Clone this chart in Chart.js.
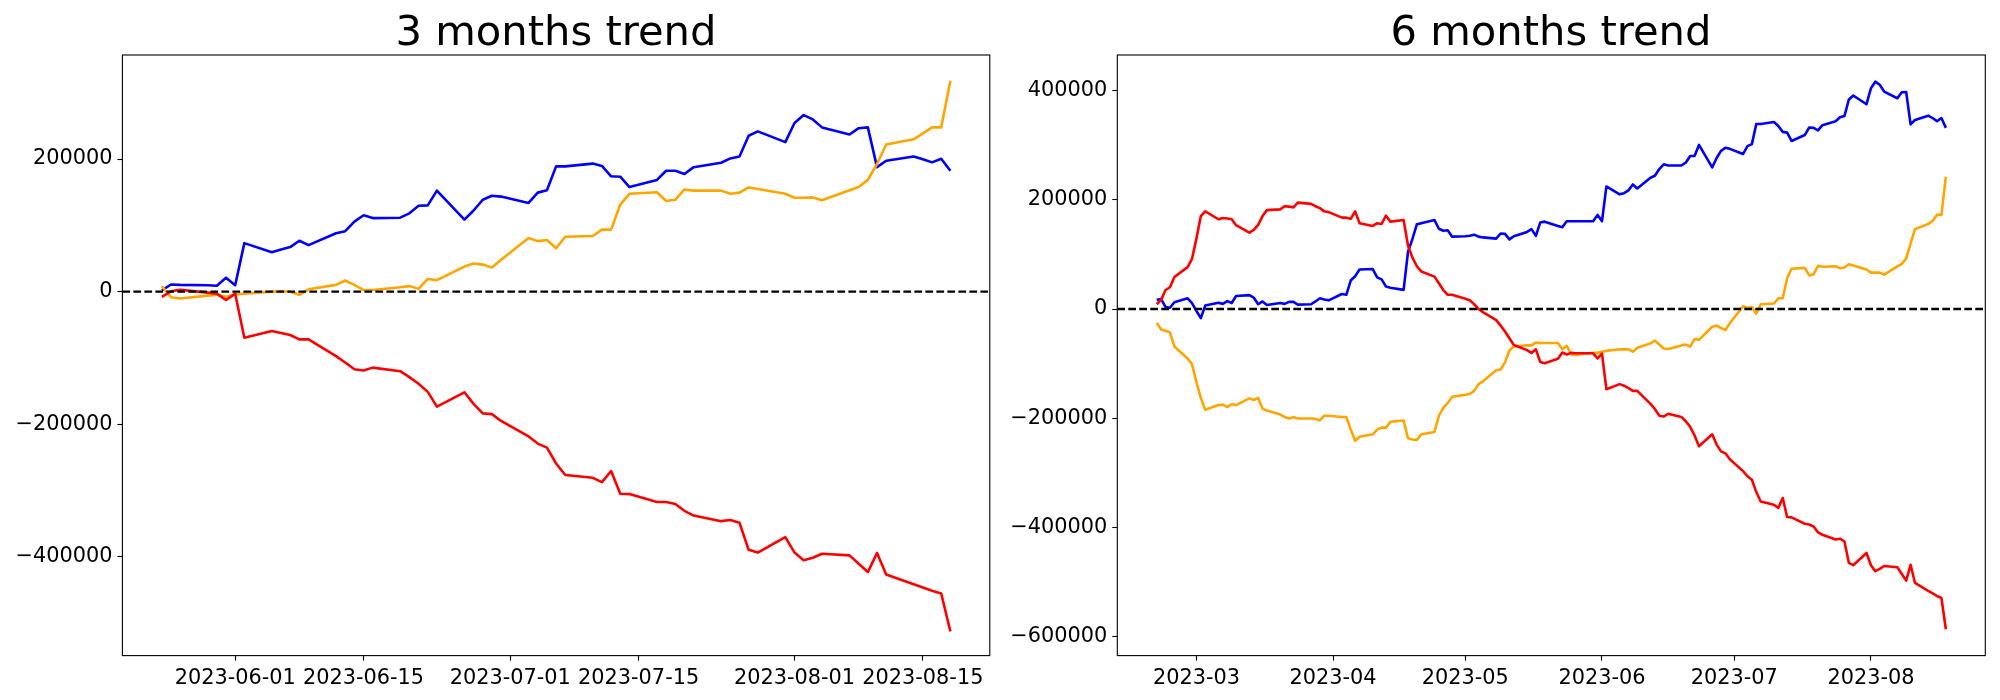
<!DOCTYPE html>
<html>
<head>
<meta charset="utf-8">
<script src="https://cdn.jsdelivr.net/npm/chart.js@4.4.0/dist/chart.umd.min.js"></script>
<style>
  body { margin: 0; background: #fff; width: 2000px; height: 700px; position: relative; overflow: hidden; font-family: "DejaVu Sans"; }
  canvas { position: absolute; top: 0; }
  .title { position: absolute; top: 10px; font-size: 41.67px; line-height: 41.67px; text-align: center; color: #000; white-space: nowrap; }
</style>
</head>
<body>
<canvas id="chart3m" width="1000" height="700" style="left:0"></canvas>
<canvas id="chart6m" width="1000" height="700" style="left:1000px"></canvas>
<div class="title" style="left:122px;width:868px">3 months trend</div>
<div class="title" style="left:1117px;width:868px">6 months trend</div>
<script>
// ---- 3 months window ----
const dates3m = [
  "2023-05-24", "2023-05-25", "2023-05-26", "2023-05-29", "2023-05-30", "2023-05-31",
  "2023-06-01", "2023-06-02", "2023-06-05", "2023-06-06", "2023-06-07", "2023-06-08", "2023-06-09",
  "2023-06-12", "2023-06-13", "2023-06-14", "2023-06-15", "2023-06-16",
  "2023-06-19", "2023-06-20", "2023-06-21", "2023-06-22", "2023-06-23",
  "2023-06-26", "2023-06-27", "2023-06-28", "2023-06-29", "2023-06-30",
  "2023-07-03", "2023-07-04", "2023-07-05", "2023-07-06", "2023-07-07",
  "2023-07-10", "2023-07-11", "2023-07-12", "2023-07-13", "2023-07-14",
  "2023-07-17", "2023-07-18", "2023-07-19", "2023-07-20", "2023-07-21",
  "2023-07-24", "2023-07-25", "2023-07-26", "2023-07-27", "2023-07-28",
  "2023-07-31", "2023-08-01", "2023-08-02", "2023-08-03", "2023-08-04",
  "2023-08-07", "2023-08-08", "2023-08-09", "2023-08-10", "2023-08-11",
  "2023-08-14", "2023-08-15", "2023-08-16", "2023-08-17", "2023-08-18"
];
const blue3m = [
  2000, 10800, 10200, 9600, 9000, 21000,
  9600, 73200, 59400, 63600, 67200, 76800, 70200,
  88200, 91200, 105600, 115200, 111000,
  111600, 118200, 129600, 130200, 152400,
  108600, 122400, 138600, 144600, 143400,
  133800, 149400, 153000, 189000, 189000,
  193200, 189600, 174000, 173400, 157800,
  168600, 182400, 182400, 177600, 187800,
  194400, 201000, 204000, 235200, 241800,
  225600, 254400, 266400, 259800, 247800,
  237000, 246600, 247800, 187800, 197400,
  204000, 199800, 195000, 200400, 182400
];
const orange3m = [
  8400, -8400, -10200, -6000, -4800, -7800,
  -4200, -3000, 0, 600, 0, -4800, 3600,
  10200, 16800, 10200, 2400, 2400,
  6600, 8400, 4200, 19200, 17400,
  37800, 42600, 40800, 36600, 48000,
  81000, 76200, 78000, 65400, 82800,
  84000, 93600, 93600, 131400, 147600,
  150000, 136800, 138600, 154200, 152400,
  152400, 147600, 149400, 157200, 154800,
  147600, 141600, 141600, 142200, 138000,
  153000, 157800, 168600, 192600, 222000,
  229800, 238800, 247800, 247800, 318000
];
const red3m = [
  -7700, 500, 3000, -1500, -3000, -12600,
  -3000, -69600, -59400, -62400, -65400, -72000, -72000,
  -97200, -106800, -117000, -118800, -114600,
  -120000, -129000, -139000, -151200, -173400,
  -151800, -169200, -183600, -184800, -195000,
  -218400, -229200, -235200, -259200, -276600,
  -280800, -287400, -270600, -304800, -305400,
  -317400, -317400, -320400, -330600, -337800,
  -346200, -344400, -348600, -389400, -393600,
  -370200, -393600, -405000, -401400, -395400,
  -397800, -410400, -423000, -394200, -426600,
  -441400, -446200, -451200, -455400, -512400
];
const xTicks3m = ["2023-06-01", "2023-06-15", "2023-07-01", "2023-07-15", "2023-08-01", "2023-08-15"];
const xLabels3m = ["2023-06-01", "2023-06-15", "2023-07-01", "2023-07-15", "2023-08-01", "2023-08-15"];
const yTicks3m = [-400000, -200000, 0, 200000];

// ---- 6 months window ----
const dates6m = [
  "2023-02-20", "2023-02-21", "2023-02-22", "2023-02-23", "2023-02-24",
  "2023-02-27", "2023-02-28", "2023-03-01", "2023-03-02", "2023-03-03",
  "2023-03-06", "2023-03-07", "2023-03-08", "2023-03-09", "2023-03-10",
  "2023-03-13", "2023-03-14", "2023-03-15", "2023-03-16", "2023-03-17",
  "2023-03-20", "2023-03-21", "2023-03-22", "2023-03-23", "2023-03-24",
  "2023-03-27", "2023-03-28", "2023-03-29", "2023-03-30", "2023-03-31",
  "2023-04-03", "2023-04-04", "2023-04-05", "2023-04-06", "2023-04-07",
  "2023-04-10", "2023-04-11", "2023-04-12", "2023-04-13", "2023-04-14",
  "2023-04-17", "2023-04-18", "2023-04-19", "2023-04-20", "2023-04-21",
  "2023-04-24", "2023-04-25", "2023-04-26", "2023-04-27", "2023-04-28",
  "2023-05-01", "2023-05-02", "2023-05-03", "2023-05-04", "2023-05-05",
  "2023-05-08", "2023-05-09", "2023-05-10", "2023-05-11", "2023-05-12",
  "2023-05-15", "2023-05-16", "2023-05-17", "2023-05-18", "2023-05-19",
  "2023-05-22", "2023-05-23", "2023-05-24", "2023-05-25", "2023-05-26",
  "2023-05-29", "2023-05-30", "2023-05-31", "2023-06-01", "2023-06-02",
  "2023-06-05", "2023-06-06", "2023-06-07", "2023-06-08", "2023-06-09",
  "2023-06-12", "2023-06-13", "2023-06-14", "2023-06-15", "2023-06-16",
  "2023-06-19", "2023-06-20", "2023-06-21", "2023-06-22", "2023-06-23",
  "2023-06-26", "2023-06-27", "2023-06-28", "2023-06-29", "2023-06-30",
  "2023-07-03", "2023-07-04", "2023-07-05", "2023-07-06", "2023-07-07",
  "2023-07-10", "2023-07-11", "2023-07-12", "2023-07-13", "2023-07-14",
  "2023-07-17", "2023-07-18", "2023-07-19", "2023-07-20", "2023-07-21",
  "2023-07-24", "2023-07-25", "2023-07-26", "2023-07-27", "2023-07-28",
  "2023-07-31", "2023-08-01", "2023-08-02", "2023-08-03", "2023-08-04",
  "2023-08-07", "2023-08-08", "2023-08-09", "2023-08-10", "2023-08-11",
  "2023-08-14", "2023-08-15", "2023-08-16", "2023-08-17", "2023-08-18"
];
const blue6m = [
  16700, 18100, 3600, 2200, 12300,
  19600, 10900, -3600, -16700, 6500,
  11600, 9400, 14500, 10900, 23900,
  25400, 21000, 8700, 13800, 7200,
  10900, 9400, 13000, 13000, 8000,
  8700, 13800, 19600, 17400, 15900,
  27500, 26100, 52200, 60100, 72500,
  73200, 58000, 54300, 41300, 39100,
  35000, 105100, 128300, 155100, 157200,
  163000, 147100, 143500, 144200, 132600,
  133300, 134100, 136200, 132600, 131200,
  129000, 138400, 137700, 127500, 133300,
  141300, 146400, 134100, 158700, 160100,
  152200, 150000, 160900, 160900, 160900,
  160900, 160900, 172500, 160900, 224600,
  210100, 212300, 217400, 228200, 221000,
  240600, 244200, 256500, 265200, 263000,
  263000, 268100, 280400, 280400, 300700,
  259400, 276800, 289800, 295600, 293500,
  284000, 298500, 302200, 339100, 339100,
  342700, 335500, 324600, 323200, 308000,
  318800, 332600, 331900, 327500, 336900,
  344200, 351400, 353600, 384000, 391300,
  375300, 404300, 416600, 410900, 398500,
  386200, 397100, 397800, 338400, 346400,
  354300, 350000, 344200, 350000, 331900
];
const orange6m = [
  -25400, -37700, -39900, -42800, -68800,
  -90600, -101400, -134100, -163000, -184800,
  -176100, -175400, -179700, -174600, -176100,
  -163800, -166700, -163000, -182600, -186200,
  -193500, -197800, -200700, -198500, -200700,
  -200700, -201400, -204300, -195600, -195600,
  -197800, -197800, -221000, -241300, -234000,
  -229700, -221000, -217400, -217400, -206500,
  -204300, -236900, -239100, -239800, -229700,
  -225300, -195600, -181200, -172500, -160900,
  -157200, -155800, -150000, -137700, -132600,
  -112300, -110900, -97800, -76100, -68800,
  -66700, -66700, -61600, -62300, -62300,
  -62300, -73900, -67400, -83300, -84100,
  -81200, -80400, -80400, -78300, -76800,
  -73900, -73900, -73900, -78300, -71000,
  -63000, -58000, -65200, -72500, -73200,
  -66700, -65200, -68800, -55100, -56500,
  -32600, -30400, -34800, -38400, -26100,
  5100, 2200, 3600, -8700, 8700,
  10100, 19600, 19600, 56500, 73900,
  75400, 61600, 63800, 79000, 77500,
  78300, 74600, 76100, 81900, 79700,
  72500, 66700, 66700, 66700, 63000,
  78300, 82600, 92700, 119600, 146400,
  155800, 161600, 172500, 172500, 242000
];
const red6m = [
  8700, 16700, 34800, 39900, 58700,
  76800, 92000, 129000, 170300, 179000,
  164500, 166700, 165900, 164500, 153600,
  139800, 144900, 154300, 170300, 181200,
  182600, 188400, 187700, 186200, 194900,
  192700, 188400, 184800, 179000, 177500,
  167400, 167400, 165200, 179000, 157200,
  152200, 157200, 155800, 171000, 160100,
  163000, 115900, 94200, 78300, 68800,
  59400, 47100, 34800, 26100, 26100,
  18800, 15900, 8700, 0, -5800,
  -20300, -30400, -41300, -53600, -65900,
  -75400, -80400, -73900, -97100, -99300,
  -91300, -79700, -83300, -80400, -81200,
  -81200, -81200, -90600, -81900, -147100,
  -137700, -140600, -144900, -150000, -150000,
  -173900, -183300, -195600, -197100, -192000,
  -197800, -205800, -215900, -231900, -251400,
  -229700, -248500, -260900, -264500, -275300,
  -297100, -306500, -313000, -335500, -352900,
  -358700, -364500, -346400, -381100, -381900,
  -393500, -394900, -398500, -409400, -413700,
  -422400, -421000, -426100, -465200, -469500,
  -447100, -469500, -480400, -476100, -471000,
  -473200, -485500, -497800, -468800, -502100,
  -516600, -521000, -526000, -529700, -586900
];
const xTicks6m = ["2023-03-01", "2023-04-01", "2023-05-01", "2023-06-01", "2023-07-01", "2023-08-01"];
const xLabels6m = ["2023-03", "2023-04", "2023-05", "2023-06", "2023-07", "2023-08"];
const yTicks6m = [-600000, -400000, -200000, 0, 200000, 400000];

const DAY = 86400000;
function dayNum(s) {
  return Date.parse(s + "T00:00:00Z") / DAY;
}

// matplotlib style minus sign
function fmtNum(v) {
  return v < 0 ? "\u2212" + Math.abs(v) : String(v);
}

// box around the plot area (all four spines)
const framePlugin = {
  id: "frame",
  afterDraw(chart) {
    const a = chart.chartArea;
    const ctx = chart.ctx;
    ctx.save();
    ctx.strokeStyle = "#000";
    ctx.lineWidth = 1.1;
    ctx.strokeRect(a.left, a.top, a.right - a.left, a.bottom - a.top);
    ctx.restore();
  }
};

Chart.defaults.font.family = "'DejaVu Sans'";
Chart.defaults.color = "#000";

function toPoints(dates, values) {
  return dates.map((d, i) => ({ x: dayNum(d), y: values[i] }));
}

function lineSet(data, color, order) {
  return {
    data: data,
    borderColor: color,
    borderWidth: 2.6,
    pointRadius: 0,
    fill: false,
    tension: 0,
    borderJoinStyle: "round",
    order: order
  };
}

function makeChart(id, opt) {
  const first = dayNum(opt.dates[0]);
  const last = dayNum(opt.dates[opt.dates.length - 1]);
  const xMin = first - 0.05 * (last - first);
  const xMax = last + 0.05 * (last - first);

  const zeroLine = {
    data: [{ x: xMin, y: 0 }, { x: xMax, y: 0 }],
    borderColor: "#000",
    borderWidth: 2.4,
    borderDash: [7.7, 3.3],
    pointRadius: 0,
    fill: false,
    order: 0
  };

  return new Chart(document.getElementById(id), {
    type: "line",
    data: {
      datasets: [
        lineSet(toPoints(opt.dates, opt.blue), "#0000ff", 3),
        lineSet(toPoints(opt.dates, opt.orange), "#ffa500", 2),
        lineSet(toPoints(opt.dates, opt.red), "#ff0000", 1),
        zeroLine
      ]
    },
    options: {
      responsive: false,
      animation: false,
      devicePixelRatio: 1,
      layout: { padding: { top: 55, left: 0, right: opt.padRight, bottom: 0 } },
      plugins: { legend: { display: false }, tooltip: { enabled: false }, title: { display: false } },
      scales: {
        x: {
          type: "linear",
          min: xMin,
          max: xMax,
          border: { display: false },
          grid: { drawOnChartArea: false, drawTicks: true, tickLength: 5, tickColor: "#000", tickWidth: 1.1 },
          ticks: {
            autoSkip: false,
            maxRotation: 0,
            minRotation: 0,
            padding: 5,
            font: { size: 20.83 },
            callback: (v, i) => opt.xLabels[i]
          },
          afterBuildTicks: (scale) => {
            scale.ticks = opt.xTicks.map((t) => ({ value: dayNum(t) }));
          },
          afterFit: (scale) => {
            scale.height = 44.4;
          }
        },
        y: {
          type: "linear",
          min: opt.yMin,
          max: opt.yMax,
          border: { display: false },
          grid: { drawOnChartArea: false, drawTicks: true, tickLength: 5, tickColor: "#000", tickWidth: 1.1 },
          ticks: {
            padding: 5,
            font: { size: 20.83 },
            callback: (v) => fmtNum(v)
          },
          afterBuildTicks: (scale) => {
            scale.ticks = opt.yTicks.map((v) => ({ value: v }));
          },
          afterFit: (scale) => {
            scale.width = opt.axisLeft;
          }
        }
      }
    },
    plugins: [framePlugin]
  });
}

makeChart("chart3m", {
  dates: dates3m, blue: blue3m, orange: orange3m, red: red3m,
  xTicks: xTicks3m, xLabels: xLabels3m, yTicks: yTicks3m,
  yMin: -549000, yMax: 357000, axisLeft: 122.4, padRight: 10.2
});

makeChart("chart6m", {
  dates: dates6m, blue: blue6m, orange: orange6m, red: red6m,
  xTicks: xTicks6m, xLabels: xLabels6m, yTicks: yTicks6m,
  yMin: -635200, yMax: 465500, axisLeft: 117.3, padRight: 14.7
});
</script>
</body>
</html>
